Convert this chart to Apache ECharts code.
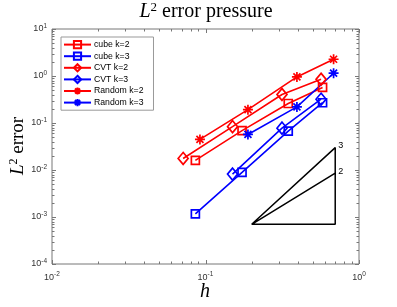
<!DOCTYPE html>
<html><head><meta charset="utf-8">
<script src="https://cdn.jsdelivr.net/npm/echarts@6/dist/echarts.min.js"></script>
<style>html,body{margin:0;padding:0;background:#fff}#c{width:397px;height:307px}</style>
</head><body><div id="c"></div>
<script>
const seriesNames = ['cube k=2', 'cube k=3', 'CVT k=2', 'CVT k=3', 'Random k=2', 'Random k=3'];
const cubeK2H = [0.0859, 0.173, 0.346, 0.579];
const cubeK2E = [0.0160, 0.069, 0.260, 0.571];
const cubeK3H = [0.0859, 0.173, 0.346, 0.579];
const cubeK3E = [0.00116, 0.00889, 0.067, 0.270];
const cvtK2H = [0.0715, 0.150, 0.315, 0.566];
const cvtK2E = [0.0176, 0.0835, 0.404, 0.853];
const cvtK3H = [0.150, 0.315, 0.566];
const cvtK3E = [0.00818, 0.0776, 0.321];
const randK2H = [0.092, 0.189, 0.394, 0.683];
const randK2E = [0.0447, 0.192, 0.955, 2.27];
const randK3H = [0.189, 0.394, 0.683];
const randK3E = [0.057, 0.220, 1.146];
const triH = [0.7, 0.2, 0.7, 0.7, 0.2];
const triE = [0.0086, 0.0007, 0.0007, 0.030, 0.0007];
const triLabels = ['2', '', '', '3', ''];
const xTickExps = [-2, -1, 0];
const yTickExps = [-4, -3, -2, -1, 0, 1];
const xRange = [0.01, 1];
const yRange = [1e-4, 10];

const RED = '#ff0000', BLUE = '#0000ff';
const SANS = "'Liberation Sans Narrow','Liberation Sans',Arial,sans-serif";
const SERIF = "'Liberation Serif','DejaVu Serif',serif";
const STAR = 'path://M0,5L10,5M5,0L5,10M1.5,1.5L8.5,8.5M1.5,8.5L8.5,1.5';

function pairs(h, e) { return h.map((v, i) => [v, e[i]]); }
function mk(name, h, e, color, symbol, size) {
  return {
    name, type: 'line', data: pairs(h, e), symbol, symbolSize: size,
    lineStyle: { color, width: 1.6 },
    itemStyle: { color: 'rgba(0,0,0,0)', borderColor: color, borderWidth: 1.7 },
    emphasis: { disabled: true }, z: 3
  };
}
function expLabel(exps) {
  return function (v) {
    const e = Math.round(Math.log10(v));
    if (exps.indexOf(e) < 0) return '';
    return '{b|10}{s|' + e + '}';
  };
}
const labelRich = {
  b: { fontSize: 9, fontFamily: SANS, color: '#333' },
  s: { fontSize: 6.5, fontFamily: SANS, color: '#333', padding: [0, 0, 6, 0] }
};

const tickData = [];
xTickExps.forEach(e => tickData.push([Math.pow(10, e), 1, 0, 1]));
yTickExps.forEach(e => tickData.push([0.1, Math.pow(10, e), 1, 1]));
for (let e = xTickExps[0]; e < xTickExps[xTickExps.length - 1]; e++)
  for (let m = 2; m <= 9; m++) tickData.push([m * Math.pow(10, e), 1, 0, 0]);
for (let e = yTickExps[0]; e < yTickExps[yTickExps.length - 1]; e++)
  for (let m = 2; m <= 9; m++) tickData.push([0.1, m * Math.pow(10, e), 1, 0]);

const TICKC = '#777';
const titleRich = {
  i: { fontSize: 20, fontFamily: SERIF, fontStyle: 'italic', fill: '#000' },
  s: { fontSize: 13, fontFamily: SERIF, fill: '#000', padding: [0, 0, 9, 0] },
  r: { fontSize: 20, fontFamily: SERIF, fill: '#000' }
};
const ylabRich = {
  i: { fontSize: 19, fontFamily: SERIF, fontStyle: 'italic', fill: '#000' },
  s: { fontSize: 12, fontFamily: SERIF, fill: '#000', padding: [0, 0, 9, 0] },
  r: { fontSize: 19, fontFamily: SERIF, fill: '#000' }
};
const option = {
  animation: false,
  grid: { left: 52, right: 38, top: 29, bottom: 43, show: true, borderColor: TICKC, borderWidth: 1, backgroundColor: 'transparent' },
  xAxis: {
    type: 'log', logBase: 10, min: xRange[0], max: xRange[1],
    axisLine: { show: false }, axisTick: { show: false }, splitLine: { show: false },
    axisLabel: { formatter: expLabel(xTickExps), rich: labelRich, margin: 7 }
  },
  yAxis: {
    type: 'log', logBase: 10, min: yRange[0], max: yRange[1],
    axisLine: { show: false }, axisTick: { show: false }, splitLine: { show: false },
    axisLabel: { formatter: expLabel(yTickExps), rich: labelRich, margin: 5 }
  },
  legend: {
    data: seriesNames, orient: 'vertical', left: 61, top: 37,
    itemWidth: 27, itemHeight: 9, itemGap: 2.4,
    padding: [3, 10, 3, 2], borderColor: '#999', borderWidth: 1, backgroundColor: '#fff',
    textStyle: { fontSize: 8.7, fontFamily: SANS, color: '#000', padding: [0, 0, 0, -2] }
  },
  graphic: [
    { type: 'text', x: 206, y: 12, style: {
      text: '{i|L}{s|2}{r| error pressure}', align: 'center', verticalAlign: 'middle', rich: titleRich } },
    { type: 'text', x: 18, y: 146, rotation: Math.PI / 2, style: {
      text: '{i|L}{s|2}{r| error}', align: 'center', verticalAlign: 'middle', rich: ylabRich } },
    { type: 'text', x: 205, y: 292, style: {
      text: 'h', align: 'center', verticalAlign: 'middle',
      fontSize: 20, fontFamily: SERIF, fontStyle: 'italic', fill: '#000' } }
  ],
  series: [
    mk(seriesNames[0], cubeK2H, cubeK2E, RED, 'rect', 8),
    mk(seriesNames[1], cubeK3H, cubeK3E, BLUE, 'rect', 8),
    mk(seriesNames[2], cvtK2H, cvtK2E, RED, 'diamond', [10, 12]),
    mk(seriesNames[3], cvtK3H, cvtK3E, BLUE, 'diamond', [10, 12]),
    mk(seriesNames[4], randK2H, randK2E, RED, STAR, 10),
    mk(seriesNames[5], randK3H, randK3E, BLUE, STAR, 10),
    {
      name: 'triangle', type: 'line', symbol: 'circle', symbolSize: 0.01, silent: true,
      itemStyle: { color: 'rgba(0,0,0,0)' },
      lineStyle: { color: '#000', width: 1.5 },
      data: triH.map((h, i) => ({
        value: [h, triE[i]],
        label: { show: !!triLabels[i], formatter: triLabels[i], position: 'right', distance: 3,
          offset: [0, -2], fontSize: 9, fontFamily: SANS, color: '#000' }
      })),
      z: 2
    },
    {
      name: 'ticks', type: 'custom', silent: true, data: tickData, z: 1,
      renderItem: function (params, api) {
        const cs = params.coordSys;
        const isY = api.value(2) === 1;
        const len = api.value(3) === 1 ? 4 : 2.5;
        const st = { stroke: TICKC, lineWidth: 1 };
        if (!isY) {
          const x = Math.round(api.coord([api.value(0), 1])[0]) + 0.5;
          return { type: 'group', children: [
            { type: 'line', shape: { x1: x, y1: cs.y + cs.height, x2: x, y2: cs.y + cs.height - len }, style: st },
            { type: 'line', shape: { x1: x, y1: cs.y, x2: x, y2: cs.y + len }, style: st }
          ] };
        } else {
          const y = Math.round(api.coord([0.1, api.value(1)])[1]) + 0.5;
          return { type: 'group', children: [
            { type: 'line', shape: { x1: cs.x, y1: y, x2: cs.x + len, y2: y }, style: st },
            { type: 'line', shape: { x1: cs.x + cs.width, y1: y, x2: cs.x + cs.width - len, y2: y }, style: st }
          ] };
        }
      }
    }
  ]
};
const chart = echarts.init(document.getElementById('c'), null, { renderer: 'canvas' });
chart.setOption(option);
</script>
</body></html>
